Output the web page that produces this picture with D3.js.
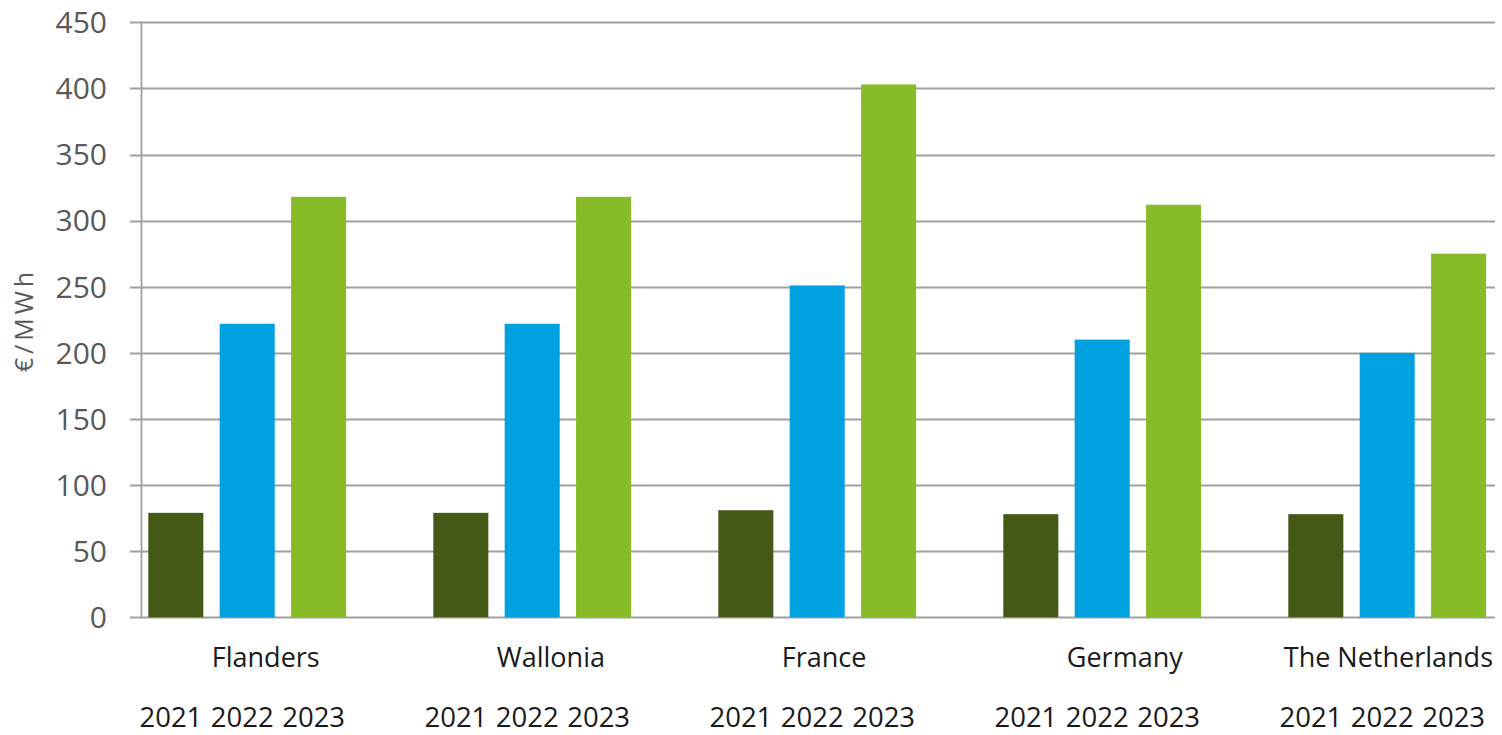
<!DOCTYPE html>
<html>
<head>
<meta charset="utf-8">
<script src="https://cdn.jsdelivr.net/npm/d3@7"></script>
<style>
  html, body { margin: 0; padding: 0; background: #fff; }
  svg { display: block; }
</style>
</head>
<body>
<svg id="chart" width="1502" height="735"></svg>
<script>
// ---- data ----
const regions = ["Flanders", "Wallonia", "France", "Germany", "The Netherlands"];
const years = ["2021", "2022", "2023"];
const values2021 = [79, 79, 81, 78, 78];
const values2022 = [222, 222, 251, 210, 200];
const values2023 = [318, 318, 403, 312, 275];
const yTicks = [0, 50, 100, 150, 200, 250, 300, 350, 400, 450];
const yTitle = "€/MWh";
const seriesColors = ["#435a16", "#00a1df", "#87bb28"];

const seriesValues = [values2021, values2022, values2023];
const rows = regions.map((r, i) => ({
  region: r,
  vals: years.map((y, j) => ({ year: y, value: seriesValues[j][i], s: j }))
}));

const W = 1502, H = 735;
const svg = d3.select("#chart");
const font = "'Open Sans', 'Noto Sans', sans-serif";

const axisX = 141.5;
const y = d3.scaleLinear().domain([0, 450]).range([617.3, 22.3]);
const x0 = d3.scaleBand().domain(regions).range([104.7, 1529.7])
  .paddingInner(0.306).paddingOuter(0.153);
const x1 = d3.scaleBand().domain(years).range([0, x0.bandwidth()])
  .paddingInner(0.229).paddingOuter(0);

// gridlines + ticks
svg.append("g").selectAll("line").data(yTicks).join("line")
  .attr("x1", 130).attr("x2", 1495)
  .attr("y1", d => Math.round(y(d)) + 0.5).attr("y2", d => Math.round(y(d)) + 0.5)
  .attr("stroke", "#a0a0a0").attr("stroke-width", 1.8);

// y axis line
svg.append("line")
  .attr("x1", axisX).attr("x2", axisX)
  .attr("y1", y(450)).attr("y2", y(0))
  .attr("stroke", "#a0a0a0").attr("stroke-width", 1.8);

// y tick labels
svg.append("g").selectAll("text").data(yTicks).join("text")
  .attr("x", 107).attr("y", d => y(d))
  .attr("dy", "0.36em")
  .attr("text-anchor", "end")
  .attr("font-family", font).attr("font-size", 30)
  .attr("fill", "#595959")
  .text(d => d);

// y title
svg.append("text")
  .attr("transform", "translate(33,320) rotate(-90)")
  .attr("text-anchor", "middle")
  .attr("font-family", font).attr("font-size", 25)
  .attr("letter-spacing", 4)
  .attr("fill", "#595959")
  .text(yTitle);

// bars
const groups = svg.append("g").selectAll("g").data(rows).join("g")
  .attr("transform", d => `translate(${x0(d.region)},0)`);

groups.selectAll("rect").data(d => d.vals).join("rect")
  .attr("x", d => x1(d.year))
  .attr("width", x1.bandwidth())
  .attr("y", d => y(d.value))
  .attr("height", d => y(0) - y(d.value))
  .attr("fill", d => seriesColors[d.s]);

// year labels
groups.selectAll("text.yr").data(d => d.vals).join("text")
  .attr("class", "yr")
  .attr("x", d => x1(d.year) + x1.bandwidth() - 1)
  .attr("y", 727)
  .attr("text-anchor", "end")
  .attr("font-family", font).attr("font-size", 27.5)
  .attr("fill", "#1a1a1a")
  .text(d => d.year);

// region labels
groups.append("text")
  .attr("class", "rg")
  .attr("y", 667)
  .attr("font-family", font).attr("font-size", 27)
  .attr("fill", "#1a1a1a")
  .text(d => d.region)
  .each(function(d) {
    const w = this.getComputedTextLength();
    const gx = x0(d.region);
    const absX = Math.min(gx + 63.5, 1493 - w);
    d3.select(this).attr("x", absX - gx);
  });
</script>
</body>
</html>
